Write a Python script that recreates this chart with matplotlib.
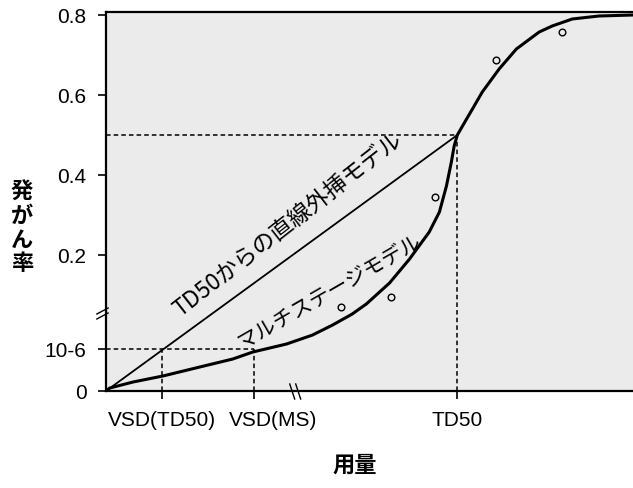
import matplotlib
matplotlib.use("Agg")
import matplotlib.pyplot as plt
from matplotlib.transforms import ScaledTranslation

# 用量 (TD50 = 1) と発がん率 (表示用の目盛り位置)
ms_dose = [0.0, 0.011, 0.077, 0.162, 0.267, 0.361, 0.418, 0.514, 0.588, 0.645,
           0.700, 0.741, 0.807, 0.864, 0.920, 0.949, 0.969, 0.983, 0.991,
           1.0, 1.023, 1.043, 1.071, 1.119, 1.168, 1.233, 1.270, 1.327, 1.403, 1.50]
ms_rate = [-0.14, -0.1325, -0.1175, -0.1025, -0.08, -0.06, -0.0425, -0.0225, 0.0, 0.025,
           0.052, 0.0775, 0.13, 0.19, 0.2575, 0.3075, 0.3725, 0.4325, 0.4725,
           0.5, 0.535, 0.565, 0.6075, 0.665, 0.715, 0.7575, 0.7725, 0.79, 0.7975, 0.80]
lin_dose = [0.0, 1.0]
lin_rate = [-0.14, 0.5]
obs_dose = [0.668, 0.810, 0.9375, 1.111, 1.298]
obs_rate = [0.07, 0.095, 0.345, 0.6875, 0.7575]

xtick_pos = [0.16, 0.42, 1.0]
xtick_lab = ["VSD(TD50)", "VSD(MS)", "TD50"]
ytick_pos = [-0.14, -0.035, 0.2, 0.4, 0.6, 0.8]
ytick_lab = ["0", "10-6", "0.2", "0.4", "0.6", "0.8"]

plt.rcParams["font.family"] = ["Liberation Sans", "Noto Sans CJK JP"]
jp = ["Noto Sans CJK JP", "DejaVu Sans"]

fig = plt.figure(figsize=(6.33, 4.89), dpi=100)
ax = fig.add_axes([106 / 633, 97 / 489, 527 / 633, 379 / 489])
ax.set_facecolor("#ebebeb")
ax.set_xlim(0, 1.5)
ax.set_ylim(-0.14, 0.8075)

# 参照線
dash = dict(ls=(0, (3, 2)), color="black", lw=1.1)
ax.plot([0, 1.0], [0.5, 0.5], **dash)
ax.plot([1.0, 1.0], [-0.14, 0.5], **dash)
ax.plot([0, 0.42], [-0.035, -0.035], **dash)
ax.plot([0.16, 0.16], [-0.14, -0.035], **dash)
ax.plot([0.42, 0.42], [-0.14, -0.035], **dash)

ax.plot(lin_dose, lin_rate, color="black", lw=1.3)
ax.plot(ms_dose, ms_rate, color="black", lw=2.2, solid_capstyle="round",
        solid_joinstyle="round")
ax.plot(obs_dose, obs_rate, "o", ms=4.8, mfc="none", mec="black", mew=1.0)

ax.text(0.517, 0.2775, "TD50からの直線外挿モデル", rotation=38, fontsize=16.5,
        family=jp, ha="center", va="center", rotation_mode="anchor")
ax.text(0.636, 0.112, "マルチステージモデル", rotation=30, fontsize=15,
        family=jp, ha="center", va="center", rotation_mode="anchor")

ax.set_xticks(xtick_pos)
ax.set_xticklabels(xtick_lab, fontsize=15)
ax.set_yticks(ytick_pos)
ax.set_yticklabels(ytick_lab, fontsize=15)
ax.tick_params(direction="out", length=6, width=1.2, pad=8)
# VSD(MS) のラベルは目盛りより右寄り
lab = ax.get_xticklabels()[1]
lab.set_transform(lab.get_transform() + ScaledTranslation(0.2, 0, fig.dpi_scale_trans))

for s in ["left", "top", "bottom"]:
    ax.spines[s].set_linewidth(1.6)
ax.spines["right"].set_visible(False)

# 軸の省略記号
for dy in (0.0, -0.0125):
    ax.plot([-0.026, 0.006], [0.0525 + dy, 0.0675 + dy], color="black", lw=1.0,
            clip_on=False)
for dx in (0.0, 0.017):
    ax.plot([0.523 + dx, 0.537 + dx], [-0.1225, -0.16], color="black", lw=1.0,
            clip_on=False)

fig.text(22 / 633, 1 - 228 / 489, "発\nが\nん\n率", fontsize=16, family=jp,
         weight="bold", ha="center", va="center", linespacing=1.05)
fig.text(355 / 633, 1 - 465 / 489, "用量", fontsize=16, family=jp,
         weight="bold", ha="center", va="center")

fig.savefig("out.png", dpi=100)
